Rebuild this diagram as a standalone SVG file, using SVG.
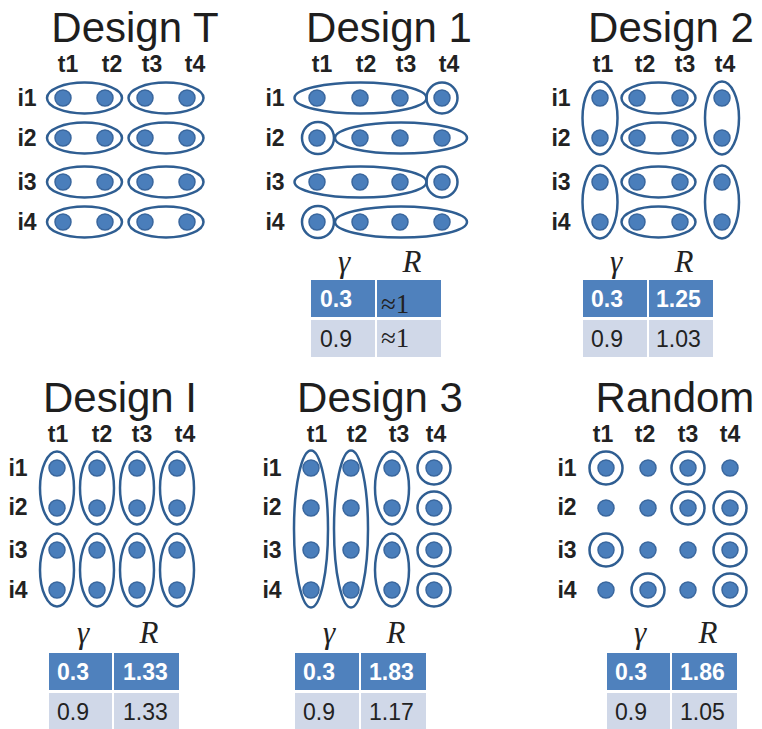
<svg xmlns="http://www.w3.org/2000/svg" width="762" height="729" viewBox="0 0 762 729">
<style>
.title{font-family:"Liberation Sans",Arial,sans-serif;font-size:42px;fill:#1e1e1e;text-anchor:middle}
.lab{font-family:"Liberation Sans",Arial,sans-serif;font-size:23px;font-weight:bold;fill:#222;text-anchor:middle}
.dot{fill:#4A7EBB;stroke:#3A679E;stroke-width:1.5}
.grp{fill:none;stroke:#2F5E92;stroke-width:2.5}
.hd{fill:#4F81BD}
.lt{fill:#D0D8E8}
.sym{font-family:"Liberation Serif","Times New Roman",serif;font-style:italic;font-size:31px;fill:#222;text-anchor:middle}
.cw{font-family:"Liberation Sans",Arial,sans-serif;font-size:23px;font-weight:bold;fill:#fff}
.cd{font-family:"Liberation Sans",Arial,sans-serif;font-size:23px;fill:#222}
.ap{font-family:"Liberation Serif","Times New Roman",serif;font-size:27px;fill:#222}
</style>
<rect width="762" height="729" fill="#fff"/>

<!-- Design T -->
<g id="designT">
<text class="title" x="135" y="42">Design T</text>
<text class="lab" x="68" y="72">t1</text><text class="lab" x="112" y="72">t2</text><text class="lab" x="152" y="72">t3</text><text class="lab" x="195" y="72">t4</text>
<text class="lab" x="27" y="106">i1</text><text class="lab" x="27" y="146">i2</text><text class="lab" x="27" y="190">i3</text><text class="lab" x="27" y="230">i4</text>
<g>
<ellipse class="grp" cx="84.5" cy="98" rx="37.5" ry="15.5"/><ellipse class="grp" cx="166" cy="98" rx="37.5" ry="15.5"/>
<ellipse class="grp" cx="84.5" cy="138" rx="37.5" ry="15.5"/><ellipse class="grp" cx="166" cy="138" rx="37.5" ry="15.5"/>
<ellipse class="grp" cx="84.5" cy="182" rx="37.5" ry="15.5"/><ellipse class="grp" cx="166" cy="182" rx="37.5" ry="15.5"/>
<ellipse class="grp" cx="84.5" cy="222" rx="37.5" ry="15.5"/><ellipse class="grp" cx="166" cy="222" rx="37.5" ry="15.5"/>
</g>
<g>
<circle class="dot" cx="63" cy="98" r="8"/><circle class="dot" cx="105" cy="98" r="8"/><circle class="dot" cx="145" cy="98" r="8"/><circle class="dot" cx="187" cy="98" r="8"/>
<circle class="dot" cx="63" cy="138" r="8"/><circle class="dot" cx="105" cy="138" r="8"/><circle class="dot" cx="145" cy="138" r="8"/><circle class="dot" cx="187" cy="138" r="8"/>
<circle class="dot" cx="63" cy="182" r="8"/><circle class="dot" cx="105" cy="182" r="8"/><circle class="dot" cx="145" cy="182" r="8"/><circle class="dot" cx="187" cy="182" r="8"/>
<circle class="dot" cx="63" cy="222" r="8"/><circle class="dot" cx="105" cy="222" r="8"/><circle class="dot" cx="145" cy="222" r="8"/><circle class="dot" cx="187" cy="222" r="8"/>
</g>
</g>

<!-- Design 1 -->
<g id="design1">
<text class="title" x="389" y="42">Design 1</text>
<text class="lab" x="322" y="72">t1</text><text class="lab" x="366" y="72">t2</text><text class="lab" x="406" y="72">t3</text><text class="lab" x="449" y="72">t4</text>
<text class="lab" x="275" y="106">i1</text><text class="lab" x="275" y="146">i2</text><text class="lab" x="275" y="190">i3</text><text class="lab" x="275" y="230">i4</text>
<g>
<ellipse class="grp" cx="360.5" cy="98" rx="66" ry="15.5"/><circle class="grp" cx="442" cy="98" r="15.5"/>
<circle class="grp" cx="318" cy="138" r="16"/><ellipse class="grp" cx="401" cy="138" rx="66" ry="15.5"/>
<ellipse class="grp" cx="360.5" cy="182" rx="66" ry="15.5"/><circle class="grp" cx="442" cy="182" r="15.5"/>
<circle class="grp" cx="318" cy="222" r="16"/><ellipse class="grp" cx="401" cy="222" rx="66" ry="15.5"/>
</g>
<g>
<circle class="dot" cx="317" cy="98" r="8"/><circle class="dot" cx="360" cy="98" r="8"/><circle class="dot" cx="400" cy="98" r="8"/><circle class="dot" cx="442" cy="98" r="8"/>
<circle class="dot" cx="317" cy="138" r="8"/><circle class="dot" cx="360" cy="138" r="8"/><circle class="dot" cx="400" cy="138" r="8"/><circle class="dot" cx="442" cy="138" r="8"/>
<circle class="dot" cx="317" cy="182" r="8"/><circle class="dot" cx="360" cy="182" r="8"/><circle class="dot" cx="400" cy="182" r="8"/><circle class="dot" cx="442" cy="182" r="8"/>
<circle class="dot" cx="317" cy="222" r="8"/><circle class="dot" cx="360" cy="222" r="8"/><circle class="dot" cx="400" cy="222" r="8"/><circle class="dot" cx="442" cy="222" r="8"/>
</g>
<g id="table1">
<text class="sym" x="344" y="272">γ</text><text class="sym" x="412" y="272">R</text>
<rect class="hd" x="311" y="280" width="64" height="37"/><rect class="hd" x="377" y="280" width="64" height="37"/>
<rect class="lt" x="311" y="320" width="64" height="37"/><rect class="lt" x="377" y="320" width="64" height="37"/>
<text class="cw" x="320" y="307">0.3</text><text class="ap" x="381" y="313">≈1</text>
<text class="cd" x="320" y="347">0.9</text><text class="ap" x="381" y="347">≈1</text>
</g>
</g>

<!-- Design 2 -->
<g id="design2">
<text class="title" x="671" y="42">Design 2</text>
<text class="lab" x="603" y="72">t1</text><text class="lab" x="645" y="72">t2</text><text class="lab" x="685" y="72">t3</text><text class="lab" x="725" y="72">t4</text>
<text class="lab" x="561" y="106">i1</text><text class="lab" x="561" y="146">i2</text><text class="lab" x="561" y="190">i3</text><text class="lab" x="561" y="230">i4</text>
<g>
<ellipse class="grp" cx="600" cy="118" rx="17.5" ry="36.5"/><ellipse class="grp" cx="658.5" cy="98" rx="37" ry="15.5"/><ellipse class="grp" cx="722" cy="118" rx="17" ry="36.5"/>
<ellipse class="grp" cx="658.5" cy="138" rx="37" ry="15.5"/>
<ellipse class="grp" cx="600" cy="202" rx="17.5" ry="36.5"/><ellipse class="grp" cx="658.5" cy="182" rx="37" ry="15.5"/><ellipse class="grp" cx="722" cy="202" rx="17" ry="36.5"/>
<ellipse class="grp" cx="658.5" cy="222" rx="37" ry="15.5"/>
</g>
<g>
<circle class="dot" cx="600" cy="98" r="8"/><circle class="dot" cx="637" cy="98" r="8"/><circle class="dot" cx="680" cy="98" r="8"/><circle class="dot" cx="722" cy="98" r="8"/>
<circle class="dot" cx="600" cy="138" r="8"/><circle class="dot" cx="637" cy="138" r="8"/><circle class="dot" cx="680" cy="138" r="8"/><circle class="dot" cx="722" cy="138" r="8"/>
<circle class="dot" cx="600" cy="182" r="8"/><circle class="dot" cx="637" cy="182" r="8"/><circle class="dot" cx="680" cy="182" r="8"/><circle class="dot" cx="722" cy="182" r="8"/>
<circle class="dot" cx="600" cy="222" r="8"/><circle class="dot" cx="637" cy="222" r="8"/><circle class="dot" cx="680" cy="222" r="8"/><circle class="dot" cx="722" cy="222" r="8"/>
</g>
<g id="table2">
<text class="sym" x="616" y="272">γ</text><text class="sym" x="684" y="272">R</text>
<rect class="hd" x="583" y="280" width="64" height="37"/><rect class="hd" x="649" y="280" width="64" height="37"/>
<rect class="lt" x="583" y="320" width="64" height="37"/><rect class="lt" x="649" y="320" width="64" height="37"/>
<text class="cw" x="591" y="307">0.3</text><text class="cw" x="656" y="307">1.25</text>
<text class="cd" x="591" y="347">0.9</text><text class="cd" x="656" y="347">1.03</text>
</g>
</g>

<!-- Design I -->
<g id="designI">
<text class="title" x="120" y="412">Design I</text>
<text class="lab" x="58" y="442">t1</text><text class="lab" x="102" y="442">t2</text><text class="lab" x="142" y="442">t3</text><text class="lab" x="185" y="442">t4</text>
<text class="lab" x="18" y="476">i1</text><text class="lab" x="18" y="515">i2</text><text class="lab" x="18" y="558">i3</text><text class="lab" x="18" y="598">i4</text>
<g>
<ellipse class="grp" cx="57" cy="488" rx="17" ry="36.5"/><ellipse class="grp" cx="97" cy="488" rx="17" ry="36.5"/><ellipse class="grp" cx="137" cy="488" rx="17" ry="36.5"/><ellipse class="grp" cx="177" cy="488" rx="17" ry="36.5"/>
<ellipse class="grp" cx="57" cy="570" rx="17" ry="36.5"/><ellipse class="grp" cx="97" cy="570" rx="17" ry="36.5"/><ellipse class="grp" cx="137" cy="570" rx="17" ry="36.5"/><ellipse class="grp" cx="177" cy="570" rx="17" ry="36.5"/>
</g>
<g>
<circle class="dot" cx="57" cy="468" r="8"/><circle class="dot" cx="97" cy="468" r="8"/><circle class="dot" cx="137" cy="468" r="8"/><circle class="dot" cx="177" cy="468" r="8"/>
<circle class="dot" cx="57" cy="508" r="8"/><circle class="dot" cx="97" cy="508" r="8"/><circle class="dot" cx="137" cy="508" r="8"/><circle class="dot" cx="177" cy="508" r="8"/>
<circle class="dot" cx="57" cy="550" r="8"/><circle class="dot" cx="97" cy="550" r="8"/><circle class="dot" cx="137" cy="550" r="8"/><circle class="dot" cx="177" cy="550" r="8"/>
<circle class="dot" cx="57" cy="590" r="8"/><circle class="dot" cx="97" cy="590" r="8"/><circle class="dot" cx="137" cy="590" r="8"/><circle class="dot" cx="177" cy="590" r="8"/>
</g>
<g id="tableI">
<text class="sym" x="83" y="643">γ</text><text class="sym" x="149" y="643">R</text>
<rect class="hd" x="49" y="653" width="63" height="37"/><rect class="hd" x="114" y="653" width="65" height="37"/>
<rect class="lt" x="49" y="693" width="63" height="36"/><rect class="lt" x="114" y="693" width="65" height="36"/>
<text class="cw" x="57" y="680">0.3</text><text class="cw" x="123" y="680">1.33</text>
<text class="cd" x="57" y="720">0.9</text><text class="cd" x="123" y="720">1.33</text>
</g>
</g>

<!-- Design 3 -->
<g id="design3">
<text class="title" x="380" y="412">Design 3</text>
<text class="lab" x="317" y="442">t1</text><text class="lab" x="357" y="442">t2</text><text class="lab" x="399" y="442">t3</text><text class="lab" x="436" y="442">t4</text>
<text class="lab" x="272" y="476">i1</text><text class="lab" x="272" y="515">i2</text><text class="lab" x="272" y="558">i3</text><text class="lab" x="272" y="598">i4</text>
<g>
<ellipse class="grp" cx="311" cy="529" rx="17" ry="78.5"/><ellipse class="grp" cx="351" cy="529" rx="17" ry="78.5"/>
<ellipse class="grp" cx="392" cy="488" rx="17" ry="36.5"/><ellipse class="grp" cx="392" cy="570" rx="17" ry="36.5"/>
<circle class="grp" cx="434" cy="468" r="16.5"/><circle class="grp" cx="434" cy="508" r="16.5"/><circle class="grp" cx="434" cy="550" r="16.5"/><circle class="grp" cx="434" cy="590" r="16.5"/>
</g>
<g>
<circle class="dot" cx="311" cy="468" r="8"/><circle class="dot" cx="351" cy="468" r="8"/><circle class="dot" cx="392" cy="468" r="8"/><circle class="dot" cx="434" cy="468" r="8"/>
<circle class="dot" cx="311" cy="508" r="8"/><circle class="dot" cx="351" cy="508" r="8"/><circle class="dot" cx="392" cy="508" r="8"/><circle class="dot" cx="434" cy="508" r="8"/>
<circle class="dot" cx="311" cy="550" r="8"/><circle class="dot" cx="351" cy="550" r="8"/><circle class="dot" cx="392" cy="550" r="8"/><circle class="dot" cx="434" cy="550" r="8"/>
<circle class="dot" cx="311" cy="590" r="8"/><circle class="dot" cx="351" cy="590" r="8"/><circle class="dot" cx="392" cy="590" r="8"/><circle class="dot" cx="434" cy="590" r="8"/>
</g>
<g id="table3">
<text class="sym" x="329" y="643">γ</text><text class="sym" x="396" y="643">R</text>
<rect class="hd" x="295" y="653" width="64" height="37"/><rect class="hd" x="361" y="653" width="65" height="37"/>
<rect class="lt" x="295" y="693" width="64" height="36"/><rect class="lt" x="361" y="693" width="65" height="36"/>
<text class="cw" x="303" y="680">0.3</text><text class="cw" x="369" y="680">1.83</text>
<text class="cd" x="303" y="720">0.9</text><text class="cd" x="369" y="720">1.17</text>
</g>
</g>

<!-- Random -->
<g id="random">
<text class="title" x="675" y="412">Random</text>
<text class="lab" x="603" y="442">t1</text><text class="lab" x="645" y="442">t2</text><text class="lab" x="688" y="442">t3</text><text class="lab" x="730" y="442">t4</text>
<text class="lab" x="567" y="476">i1</text><text class="lab" x="567" y="515">i2</text><text class="lab" x="567" y="558">i3</text><text class="lab" x="567" y="598">i4</text>
<g>
<circle class="grp" cx="606" cy="468" r="16.5"/><circle class="grp" cx="688" cy="468" r="16.5"/>
<circle class="grp" cx="688" cy="508" r="16.5"/><circle class="grp" cx="730" cy="508" r="16.5"/>
<circle class="grp" cx="606" cy="550" r="16.5"/><circle class="grp" cx="730" cy="550" r="16.5"/>
<circle class="grp" cx="648" cy="590" r="16.5"/><circle class="grp" cx="730" cy="590" r="16.5"/>
</g>
<g>
<circle class="dot" cx="606" cy="468" r="8"/><circle class="dot" cx="648" cy="468" r="8"/><circle class="dot" cx="688" cy="468" r="8"/><circle class="dot" cx="730" cy="468" r="8"/>
<circle class="dot" cx="606" cy="508" r="8"/><circle class="dot" cx="648" cy="508" r="8"/><circle class="dot" cx="688" cy="508" r="8"/><circle class="dot" cx="730" cy="508" r="8"/>
<circle class="dot" cx="606" cy="550" r="8"/><circle class="dot" cx="648" cy="550" r="8"/><circle class="dot" cx="688" cy="550" r="8"/><circle class="dot" cx="730" cy="550" r="8"/>
<circle class="dot" cx="606" cy="590" r="8"/><circle class="dot" cx="648" cy="590" r="8"/><circle class="dot" cx="688" cy="590" r="8"/><circle class="dot" cx="730" cy="590" r="8"/>
</g>
<g id="tableR">
<text class="sym" x="640" y="643">γ</text><text class="sym" x="708" y="643">R</text>
<rect class="hd" x="607" y="653" width="63" height="37"/><rect class="hd" x="672" y="653" width="65" height="37"/>
<rect class="lt" x="607" y="693" width="63" height="36"/><rect class="lt" x="672" y="693" width="65" height="36"/>
<text class="cw" x="615" y="680">0.3</text><text class="cw" x="680" y="680">1.86</text>
<text class="cd" x="615" y="720">0.9</text><text class="cd" x="680" y="720">1.05</text>
</g>
</g>
</svg>
